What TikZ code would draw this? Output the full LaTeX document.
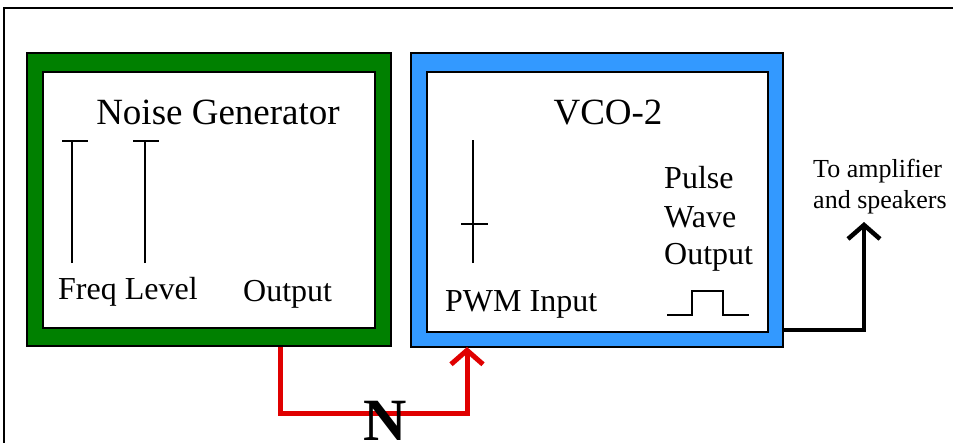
\documentclass[tikz,border=0pt]{standalone}
\usepackage{fontspec}
\setmainfont{Liberation Serif}
\usetikzlibrary{arrows.meta}
\definecolor{boxgreen}{HTML}{008000}
\definecolor{boxblue}{HTML}{3399FF}
\definecolor{wirered}{HTML}{E00000}
\tikzset{
  outerbox/.style={draw=black, line width=2pt, inner sep=0pt},
  innerbox/.style={draw=black, fill=white, line width=2.5pt, inner sep=0pt},
  lbl/.style={inner sep=0pt, anchor=base west, font=\fontsize{32}{36}\selectfont},
  title/.style={inner sep=0pt, anchor=base, font=\fontsize{37}{42}\selectfont},
  small/.style={inner sep=0pt, anchor=base west, font=\fontsize{26}{30}\selectfont},
  knob/.style={line width=2pt},
  redwire/.style={draw=wirered, line width=5pt, -{Straight Barb[length=14pt,width=32pt]}},
  blackwire/.style={draw=black, line width=4.5pt, -{Straight Barb[length=14pt,width=32pt]}},
}
\begin{document}
\begin{tikzpicture}[x=1pt,y=-1pt]
\useasboundingbox (0,0) rectangle (953,442);
\clip (0,0) rectangle (953,442);
\fill[white] (0,0) rectangle (953,442);
% outer frame
\draw[line width=2.5pt] (4,460) -- (4,8) -- (970,8);
% Noise generator
\node[outerbox, fill=boxgreen, minimum width=364pt, minimum height=293pt] (ng) at (209,199.5) {};
\node[innerbox, minimum width=332pt, minimum height=256pt] (ngin) at (209,200) {};
\node[title] (ngt) at (218,124) {Noise Generator};
\draw[knob] (72,263) -- (72,141) (62,141) -- (88,141);
\draw[knob] (145,263) -- (145,141) (133,141) -- (159,141);
\node[lbl] (freq) at (58,299) {Freq Level};
\node[lbl] (ngout) at (243,301) {Output};
% VCO-2
\node[outerbox, fill=boxblue, minimum width=372pt, minimum height=294pt] (vco) at (597,200) {};
\node[innerbox, minimum width=341pt, minimum height=260pt] (vcoin) at (597.5,202) {};
\node[title] (vcot) at (608,124) {VCO-2};
\draw[knob] (473,263) -- (473,140) (461,224) -- (488,224);
\node[lbl] (pwm) at (445,311) {PWM Input};
\node[lbl] (pulse) at (664,188) {Pulse};
\node[lbl] (wave) at (664,227) {Wave};
\node[lbl] (pout) at (664,264) {Output};
\draw[line width=2.5pt] (667,315) -- (692,315) -- (692,291) -- (723,291) -- (723,315) -- (749,315);
% destination text
\node[small] (amp1) at (813,177) {To amplifier};
\node[small] (amp2) at (813,208) {and speakers};
% connectors
\coordinate (nsrc) at (280,0);
\coordinate (vdst) at (467,0);
\coordinate (bend) at (0,413);
\coordinate (outx) at (864,0);
\coordinate (outy) at (0,330);
\coordinate (outtip) at (864,222);
\draw[redwire] (ng.south -| nsrc) -- (bend -| nsrc) -- (bend -| vdst) -- ([yshift=1pt]vco.south -| vdst);
\draw[blackwire] (vco.east |- outy) -- (outx |- outy) -- (outtip);
\node[inner sep=0pt, anchor=base, font=\fontsize{60}{66}\selectfont\bfseries] (nlab) at (385,440) {N};
\end{tikzpicture}
\end{document}
